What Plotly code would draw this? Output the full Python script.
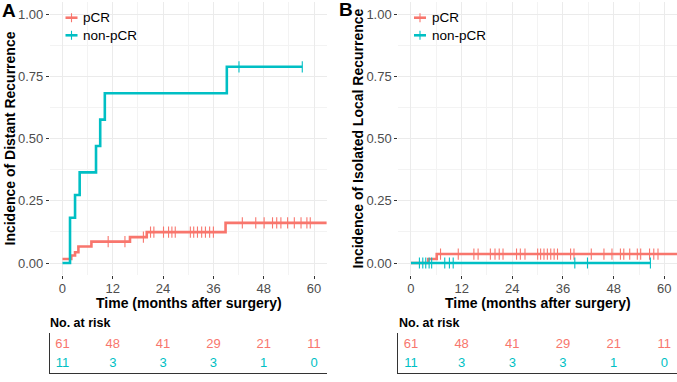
import plotly.graph_objects as go

W, H = 677, 382
RED = "#F8766D"
TEAL = "#00BFC4"

# ---------------- data ----------------
# Panel A: distant recurrence (cumulative incidence step functions)
a_pcr_t = [0, 2.1, 3.0, 3.8, 6.9, 16.1, 20.1, 38.9, 64]
a_pcr_v = [0.016, 0.030, 0.043, 0.066, 0.086, 0.104, 0.124, 0.161, 0.161]
a_pcr_cens = [10.9, 14.9, 19.3, 21.0, 21.8, 24.1, 25.3, 26.1, 26.9, 30.5, 31.3, 32.2,
              33.2, 34.1, 35.1, 36.0, 42.9, 46.1, 48.1, 50.1, 51.1, 52.1, 53.7, 55.3,
              56.9, 58.3, 59.1]
a_non_t = [0, 1.8, 3.0, 4.1, 8.0, 9.0, 10.1, 39.2, 57.2]
a_non_v = [0, 0.182, 0.273, 0.364, 0.470, 0.576, 0.682, 0.788, 0.788]
a_non_cens = [42.1, 57.2]

# Panel B: isolated local recurrence
b_pcr_t = [0, 4.1, 6.1, 64]
b_pcr_v = [0, 0.016, 0.036, 0.036]
b_pcr_cens = [7.0, 11.2, 14.9, 15.9, 18.8, 19.9, 20.9, 21.8, 25.0, 25.9, 27.0, 30.0,
              30.7, 31.5, 32.3, 33.1, 33.9, 34.7, 37.8, 38.6, 42.7, 45.7, 47.6, 49.6,
              50.4, 51.8, 53.6, 54.4, 56.5, 57.5, 58.5]
b_non_t = [0, 56.7]
b_non_v = [0, 0]
b_non_cens = [2.0, 2.8, 3.5, 4.3, 4.9, 8.0, 9.1, 10.0, 38.8, 41.8, 56.7]

# Number at risk table
risk_times = [0, 12, 24, 36, 48, 60]
risk_pcr = [61, 48, 41, 29, 21, 11]
risk_non = [11, 3, 3, 3, 1, 0]

groups = ["pCR", "non-pCR"]

# ---------------- helpers ----------------
def px(x):
    return x / W

def py(y):
    return 1 - y / H


def step_value(ts, vs, t):
    v = vs[0]
    for ti, vi in zip(ts, vs):
        if ti <= t:
            v = vi
    return v


fig = go.Figure()

panels = [
    ("x", "y", a_pcr_t, a_pcr_v, a_pcr_cens, a_non_t, a_non_v, a_non_cens),
    ("x2", "y2", b_pcr_t, b_pcr_v, b_pcr_cens, b_non_t, b_non_v, b_non_cens),
]
for xa, ya, pt, pv, pc, nt, nv, nc in panels:
    for t, v, c, col in [(pt, pv, pc, RED), (nt, nv, nc, TEAL)]:
        fig.add_trace(go.Scatter(x=t, y=v, mode="lines", line=dict(color=col, width=2.6, shape="hv"),
                                 xaxis=xa, yaxis=ya, showlegend=False, hoverinfo="skip"))
        fig.add_trace(go.Scatter(x=c, y=[step_value(t, v, ci) for ci in c], mode="markers",
                                 marker=dict(symbol="line-ns-open", size=8, color=col,
                                             line=dict(color=col, width=1.1)),
                                 xaxis=xa, yaxis=ya, showlegend=False, hoverinfo="skip"))

# risk table text
for xa, ya in [("x3", "y3"), ("x4", "y4")]:
    fig.add_trace(go.Scatter(x=risk_times, y=[2] * len(risk_times), text=[str(v) for v in risk_pcr],
                             mode="text", textfont=dict(color=RED, size=13, family="Liberation Sans"),
                             xaxis=xa, yaxis=ya, showlegend=False, cliponaxis=False, hoverinfo="skip"))
    fig.add_trace(go.Scatter(x=risk_times, y=[1] * len(risk_times), text=[str(v) for v in risk_non],
                             mode="text", textfont=dict(color=TEAL, size=13, family="Liberation Sans"),
                             xaxis=xa, yaxis=ya, showlegend=False, cliponaxis=False, hoverinfo="skip"))

FONT = "Liberation Sans"
domA = [px(49.9), px(326.6)]
domB = [px(398.3), 1.0]
ydom = [py(275.45), py(1.55)]
tdom = [py(373), py(333)]

grid = "#EBEBEB"
minor_grid = "#F3F3F3"

def main_x(dom):
    return dict(domain=dom, range=[-3, 63], tickmode="linear", tick0=0, dtick=12,
                showgrid=True, gridcolor=grid, gridwidth=1, zeroline=False, showline=False,
                ticks="outside", ticklen=3, tickcolor="#333333", tickwidth=1, ticklabelstandoff=-2,
                tickfont=dict(family=FONT, size=13, color="#4D4D4D"),
                minor=dict(tick0=0, dtick=6, showgrid=True, gridcolor=minor_grid, gridwidth=1, ticks=""))

def main_y(anchor):
    return dict(domain=ydom, range=[-0.05, 1.05], tickmode="linear", tick0=0, dtick=0.25,
                tickformat=".2f", anchor=anchor,
                showgrid=True, gridcolor=grid, gridwidth=1, zeroline=False, showline=False,
                ticks="outside", ticklen=3, tickcolor="#333333", tickwidth=1,
                tickfont=dict(family=FONT, size=13, color="#4D4D4D"),
                minor=dict(tick0=0, dtick=0.125, showgrid=True, gridcolor=minor_grid, gridwidth=1, ticks=""))

def tab_x(dom, anchor):
    return dict(domain=dom, range=[-3, 63], anchor=anchor, showgrid=False, zeroline=False,
                showline=True, linecolor="#333333", linewidth=1, showticklabels=False, ticks="")

def tab_y(anchor):
    return dict(domain=tdom, range=[0.526, 2.63], anchor=anchor, showgrid=False, zeroline=False,
                showline=True, linecolor="#333333", linewidth=1, showticklabels=False, ticks="")

fig.update_layout(
    width=W, height=H, margin=dict(l=0, r=0, t=0, b=0),
    paper_bgcolor="white", plot_bgcolor="white", showlegend=False,
    xaxis=dict(main_x(domA), anchor="y"),
    yaxis=main_y("x"),
    xaxis2=dict(main_x(domB), anchor="y2"),
    yaxis2=main_y("x2"),
    xaxis3=tab_x(domA, "y3"),
    yaxis3=tab_y("x3"),
    xaxis4=tab_x(domB, "y4"),
    yaxis4=tab_y("x4"),
)

ann = []
shapes = []

def text(x, y, s, size=14, bold=False, xanchor="center", angle=0, color="black", align="center"):
    ann.append(dict(x=px(x), y=py(y), xref="paper", yref="paper", text=f"<b>{s}</b>" if bold else s,
                    showarrow=False, xanchor=xanchor, yanchor="middle", textangle=angle, align=align,
                    font=dict(family=FONT, size=size, color=color)))

# panel labels
text(9, 11, "A", size=19, bold=True)
text(346, 10, "B", size=19, bold=True)
# y titles
text(10, 138.5, "Incidence of Distant Recurrence", size=14, bold=True, angle=-90)
text(358, 138.5, "Incidence of Isolated Local Recurrence", size=14, bold=True, angle=-90)
# x titles
text(188.5, 303, "Time (months after surgery)", size=14, bold=True)
text(537.5, 303, "Time (months after surgery)", size=14, bold=True)
# risk table headers
text(48, 323, "No. at risk", size=12.5, bold=True, xanchor="left")
text(397, 323, "No. at risk", size=12.5, bold=True, xanchor="left")

# manual legends (one two-line text block per panel, with drawn keys)
LEG_SIZE = 13.5
line_gap = LEG_SIZE * 1.3
leg_center = 26.5
key_ys = [leg_center - line_gap / 2, leg_center + line_gap / 2]
for kx, tx in [(71.5, 81), (420, 430)]:
    for col, ky in zip([RED, TEAL], key_ys):
        shapes.append(dict(type="line", xref="paper", yref="paper", x0=px(kx - 6), x1=px(kx + 6),
                           y0=py(ky), y1=py(ky), line=dict(color=col, width=2.6)))
        shapes.append(dict(type="line", xref="paper", yref="paper", x0=px(kx), x1=px(kx),
                           y0=py(ky - 4.5), y1=py(ky + 4.5), line=dict(color=col, width=1.1)))
    text(tx, leg_center, "<br>".join(groups), size=LEG_SIZE, xanchor="left", align="left")

fig.update_layout(annotations=ann, shapes=shapes)
fig.write_html("out.html", config={"displayModeBar": False},
               post_script="document.body.style.margin='0';document.body.style.overflow='hidden';")
